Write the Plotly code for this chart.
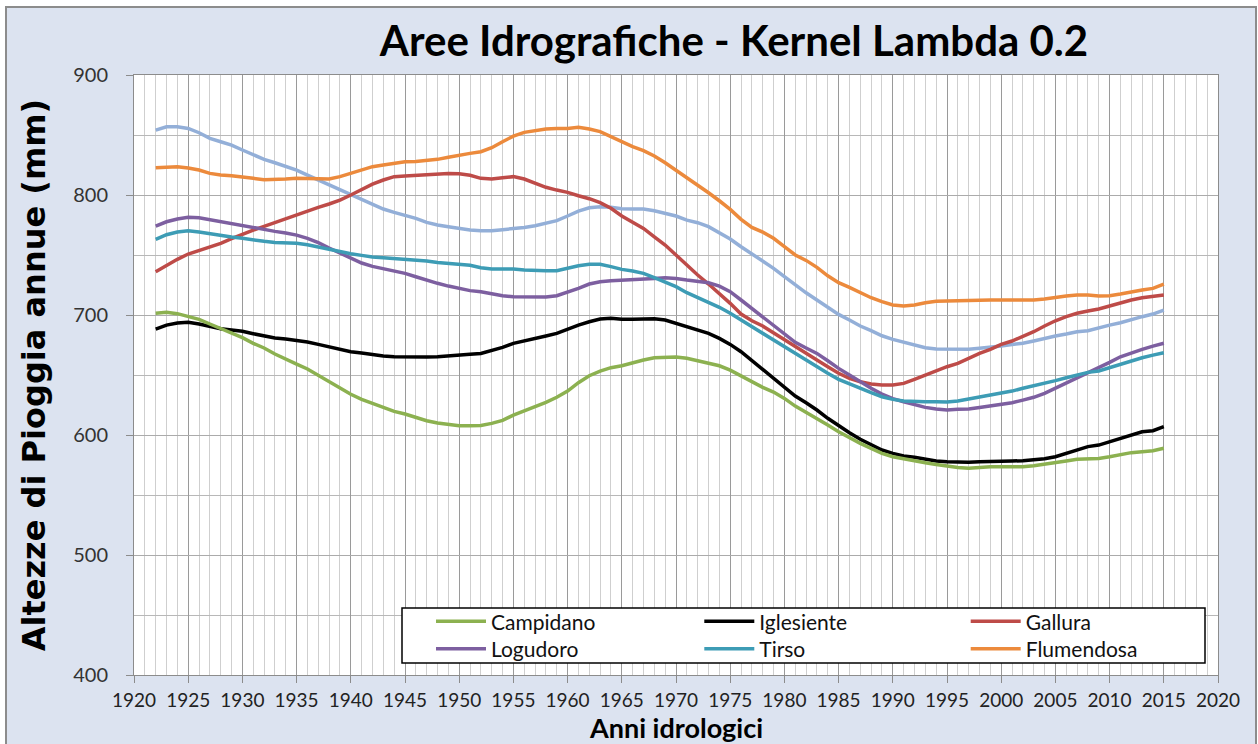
import plotly.graph_objects as go

years = list(range(1922, 2016))

campidano = [
    701.4, 702.2, 701.1, 699.1, 696.4, 692.5, 688.9, 685.3, 681.1, 676.4,
    672.5, 667.5, 663.6, 659.1, 655.0, 649.7, 644.1, 638.6, 633.9, 629.7,
    626.4, 622.8, 619.7, 617.5, 614.7, 611.9, 610.0, 608.6, 607.8, 607.8,
    608.0, 609.7, 612.2, 616.6, 620.0, 623.6, 627.2, 631.4, 636.6, 643.6,
    649.4, 653.3, 656.1, 657.7, 660.2, 662.5, 664.4, 665.0, 665.0, 663.9,
    661.9, 660.2, 657.7, 654.1, 649.1, 644.4, 639.7, 635.8, 630.5, 624.1,
    619.0, 613.9, 608.3, 602.7, 597.7, 593.0, 588.9, 584.7, 581.9, 580.0,
    578.6, 576.9, 575.5, 574.1, 573.0, 572.2, 573.0, 573.6, 573.6, 573.6,
    573.6, 574.4, 575.5, 576.9, 578.3, 579.7, 580.0, 580.5, 581.9, 583.9,
    585.3, 586.1, 586.9, 588.9]

iglesiente = [
    688.3, 691.6, 693.3, 693.9, 692.5, 690.5, 688.6, 687.5, 686.4, 684.4,
    682.7, 680.8, 680.0, 679.1, 677.5, 675.5, 673.3, 671.1, 669.4, 668.3,
    666.9, 665.8, 665.2, 665.0, 665.0, 665.0, 665.2, 666.1, 666.9, 667.2,
    668.0, 670.2, 673.0, 676.4, 678.3, 680.0, 682.5, 684.7, 688.3, 691.6,
    694.4, 696.6, 697.2, 696.4, 696.4, 696.9, 696.9, 695.8, 693.0, 690.3,
    688.0, 684.7, 680.5, 675.5, 669.4, 661.9, 654.7, 647.2, 639.7, 632.5,
    626.8, 620.8, 613.9, 607.5, 601.9, 596.4, 592.2, 587.5, 584.7, 582.5,
    581.4, 579.7, 578.3, 577.8, 577.2, 577.2, 577.8, 577.8, 577.8, 578.3,
    578.6, 579.1, 580.2, 581.9, 584.7, 587.5, 590.3, 591.6, 594.4, 597.2,
    600.0, 602.7, 603.6, 606.9]

gallura = [
    736.1, 741.4, 746.4, 750.8, 753.9, 756.4, 759.7, 763.6, 767.5, 770.8,
    773.9, 777.2, 780.5, 783.3, 786.6, 789.7, 792.5, 795.8, 800.0, 804.7,
    809.1, 812.5, 815.3, 815.8, 816.4, 817.2, 817.7, 818.0, 817.7, 816.4,
    813.9, 813.3, 814.4, 815.3, 813.3, 810.0, 806.4, 804.1, 802.2, 799.4,
    796.9, 793.6, 788.9, 782.5, 777.7, 772.2, 765.2, 758.3, 750.0, 741.6,
    733.3, 725.8, 718.0, 709.7, 700.8, 695.2, 690.8, 685.3, 679.1, 673.6,
    668.5, 662.5, 656.9, 651.4, 647.2, 644.4, 642.5, 641.6, 641.6, 643.0,
    646.4, 650.0, 653.6, 656.9, 659.7, 663.9, 668.0, 671.4, 675.5, 678.3,
    681.9, 686.1, 690.8, 695.2, 698.6, 701.4, 703.3, 705.0, 707.5, 710.2,
    712.5, 714.4, 715.8, 716.6]

logudoro = [
    774.1, 777.7, 780.0, 781.4, 781.1, 779.4, 777.7, 776.6, 774.7, 773.3,
    771.6, 769.7, 768.3, 766.6, 763.9, 760.3, 755.8, 751.4, 746.9, 743.3,
    740.5, 738.6, 736.6, 734.7, 731.9, 728.9, 726.4, 724.1, 722.2, 720.3,
    719.4, 717.5, 716.1, 715.2, 715.0, 715.0, 715.0, 716.1, 718.9, 722.2,
    725.8, 727.7, 728.6, 728.9, 729.7, 730.2, 730.5, 731.1, 730.5, 729.1,
    727.7, 726.9, 724.1, 719.4, 712.5, 705.5, 698.6, 691.6, 684.1, 677.2,
    672.5, 668.0, 661.9, 655.5, 650.0, 644.4, 638.9, 634.1, 630.3, 627.7,
    625.5, 623.0, 621.6, 620.8, 621.4, 621.6, 623.0, 624.4, 625.8, 626.9,
    629.1, 631.4, 634.7, 638.9, 643.0, 647.7, 651.4, 655.5, 660.5, 665.2,
    668.6, 671.4, 674.1, 676.4]

tirso = [
    763.0, 766.9, 769.1, 770.2, 769.1, 767.5, 766.4, 765.0, 763.9, 762.5,
    761.4, 760.5, 760.3, 759.7, 758.6, 756.6, 754.7, 752.5, 751.1, 749.7,
    748.3, 747.7, 747.2, 746.6, 746.1, 745.0, 743.8, 743.0, 742.5, 741.4,
    739.4, 738.3, 738.3, 738.3, 737.5, 736.9, 736.9, 736.9, 738.9, 741.1,
    742.2, 742.2, 740.3, 738.0, 736.6, 734.7, 731.1, 727.7, 723.6, 718.6,
    714.7, 710.2, 706.4, 701.4, 695.8, 690.3, 685.3, 679.7, 674.1, 668.6,
    662.8, 656.9, 651.4, 646.4, 642.5, 638.9, 635.3, 631.9, 629.7, 628.3,
    627.7, 627.7, 627.7, 627.5, 628.3, 630.0, 631.9, 633.3, 634.7, 636.6,
    638.9, 640.8, 643.0, 645.3, 647.7, 650.0, 652.2, 653.3, 656.1, 659.1,
    661.9, 664.4, 666.6, 668.6]

flumendosa = [
    822.7, 823.3, 823.6, 822.5, 820.8, 818.0, 816.6, 816.1, 815.3, 813.9,
    812.7, 812.7, 813.3, 813.9, 813.9, 813.9, 813.3, 815.3, 818.0, 820.8,
    823.6, 825.0, 826.4, 827.7, 828.0, 828.6, 829.7, 831.4, 833.3, 834.7,
    836.1, 839.4, 844.4, 849.1, 852.2, 853.9, 855.0, 855.5, 855.5, 856.4,
    855.0, 852.8, 848.6, 843.9, 840.3, 836.9, 832.5, 826.9, 820.8, 814.4,
    808.3, 801.9, 795.2, 788.0, 779.7, 773.0, 769.1, 763.9, 756.9, 750.0,
    745.5, 739.7, 732.7, 726.9, 723.0, 718.6, 714.4, 711.1, 708.3, 707.5,
    708.3, 710.2, 711.4, 711.6, 711.6, 711.6, 712.2, 712.5, 712.5, 712.5,
    712.5, 712.5, 713.3, 714.7, 715.8, 716.6, 716.6, 715.8, 716.1, 717.5,
    719.4, 720.8, 722.2, 725.8]

# series drawn in the chart but not listed in its legend
altra_area = [
    854.1, 856.9, 856.9, 855.5, 851.9, 847.2, 844.4, 841.6, 837.5, 833.3,
    829.7, 826.9, 824.1, 820.8, 816.6, 812.5, 808.3, 804.1, 800.0, 795.8,
    792.2, 788.3, 785.5, 783.3, 780.5, 777.2, 775.0, 773.6, 772.2, 770.8,
    770.2, 770.2, 771.1, 771.9, 773.0, 774.4, 776.4, 778.6, 782.5, 786.6,
    789.4, 790.2, 789.7, 788.6, 788.3, 788.3, 786.9, 784.7, 782.5, 779.1,
    776.9, 773.6, 768.6, 763.3, 756.9, 750.8, 745.2, 738.9, 731.9, 725.0,
    718.5, 712.5, 706.1, 700.5, 695.8, 690.8, 686.9, 682.7, 679.7, 677.2,
    675.0, 672.7, 671.6, 671.4, 671.4, 671.4, 672.2, 673.0, 674.1, 675.5,
    676.4, 678.3, 680.5, 682.5, 684.1, 686.1, 686.9, 689.4, 691.6, 693.6,
    696.4, 698.6, 700.8, 704.1]

x_ticks = list(range(1920, 2021, 5))
y_ticks = [400, 500, 600, 700, 800, 900]

FONT = "Lato"
W, H = 1258, 744
L, R, T, B = 134, 40, 75, 69
PW, PH = W - L - R, H - T - B


def px_x(p):
    return (p - L) / PW


def px_y(p):
    return (H - B - p) / PH


fig = go.Figure()

fig.add_trace(go.Scatter(x=years, y=altra_area, mode="lines", name="Altra area",
                         showlegend=False, line=dict(color="#93afd8", width=3.5)))

series = [
    ("Campidano", campidano, "#8cb150", "legend", 0),
    ("Iglesiente", iglesiente, "#000000", "legend2", 1),
    ("Gallura", gallura, "#be4b48", "legend3", 2),
    ("Logudoro", logudoro, "#7d5fa0", "legend4", 0),
    ("Tirso", tirso, "#3d9cb5", "legend5", 1),
    ("Flumendosa", flumendosa, "#ec8a3c", "legend6", 2),
]
draw_order = ["Flumendosa", "Gallura", "Logudoro", "Tirso", "Iglesiente", "Campidano"]
for nm in draw_order:
    for name, vals, col, lg, c in series:
        if name == nm:
            fig.add_trace(go.Scatter(x=years, y=vals, mode="lines", name=name,
                                     legend=lg, line=dict(color=col, width=3.5)))

col_x = [431, 699.3, 965.7]
row_y = [621.7, 649.0]
legends = {}
for i, (name, vals, col, lg, c) in enumerate(series):
    r = 0 if i < 3 else 1
    legends[lg] = dict(
        x=px_x(col_x[c]), xanchor="left", y=px_y(row_y[r]), yanchor="middle",
        bgcolor="rgba(0,0,0,0)", borderwidth=0, itemwidth=50,
        font=dict(family=FONT, size=21, color="#111111"),
        orientation="h",
    )

shapes = [
    dict(type="rect", xref="paper", yref="paper", layer="below",
         x0=px_x(6), x1=px_x(1256), y0=px_y(770), y1=px_y(7),
         fillcolor="#dce3f0", line=dict(color="#8c8c8c", width=2)),
    dict(type="rect", xref="paper", yref="paper", layer="below",
         x0=0, x1=1, y0=0, y1=1, fillcolor="#ffffff", line=dict(width=0)),
    dict(type="rect", xref="paper", yref="paper", layer="above",
         x0=px_x(402), x1=px_x(1205), y0=px_y(663), y1=px_y(608),
         fillcolor="#ffffff", line=dict(color="#000000", width=1.5)),
]

annotations = [
    dict(text="<b>Anni idrologici</b>", xref="paper", yref="paper",
         x=px_x(676), y=px_y(727), xanchor="center", yanchor="middle",
         showarrow=False, font=dict(family=FONT, size=27, color="#000000")),
]

fig.update_layout(
    width=W, height=H, autosize=False,
    margin=dict(l=L, r=R, t=T, b=B, pad=0, autoexpand=False),
    paper_bgcolor="#ffffff", plot_bgcolor="#ffffff",
    font=dict(family=FONT, color="#222222"),
    title=dict(text="<b>Aree Idrografiche - Kernel Lambda 0.2</b>",
               font=dict(family=FONT, size=42, color="#000000"),
               xref="container", x=734 / W, xanchor="center",
               yref="container", y=1 - 41 / H, yanchor="middle"),
    xaxis=dict(range=[1920, 2020], tickmode="array", tickvals=x_ticks,
               ticktext=[str(v) for v in x_ticks], automargin=False,
               ticks="outside", ticklen=7, tickcolor="#8c8c8c", tickwidth=1,
               showgrid=True, gridcolor="#9a9a9a", gridwidth=1,
               minor=dict(dtick=1, tick0=1920, showgrid=True, gridcolor="#cfcfcf", gridwidth=1, ticks=""),
               showline=True, linecolor="#8c8c8c", linewidth=1, mirror=True,
               zeroline=False, ticklabelstandoff=1,
               tickfont=dict(family=FONT, size=19, color="#222222")),
    yaxis=dict(range=[400, 900], tickmode="array", tickvals=y_ticks, automargin=False,
               ticks="outside", ticklen=7, tickcolor="#8c8c8c", tickwidth=1,
               showgrid=True, gridcolor="#ababab", gridwidth=1,
               minor=dict(dtick=50, tick0=400, showgrid=True, gridcolor="#b8b8b8", gridwidth=1, ticks=""),
               showline=True, linecolor="#8c8c8c", linewidth=1, mirror=True,
               zeroline=False, ticklabelstandoff=14,
               tickfont=dict(family=FONT, size=20, color="#333333"),
               title=dict(text="<b>Altezze di Pioggia annue (mm)</b>", standoff=17,
                          font=dict(family="DejaVu Sans", size=32, color="#000000"))),
    shapes=shapes,
    annotations=annotations,
    **legends,
)

fig.write_html("out.html", config={"displayModeBar": False},
               post_script="document.body.style.margin='0';document.body.style.overflow='hidden';")
